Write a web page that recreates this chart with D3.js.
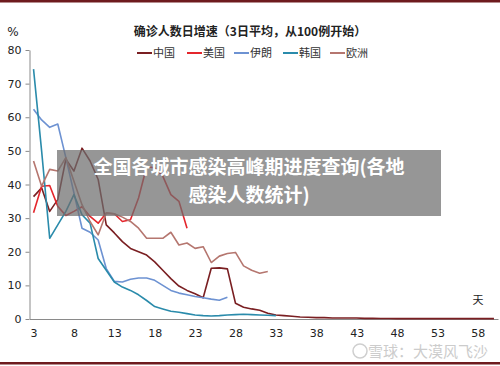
<!DOCTYPE html>
<html>
<head>
<meta charset="utf-8">
<script src="https://cdn.jsdelivr.net/npm/d3@7"></script>
<style>
  body { margin: 0; background: #fff; }
  svg { display: block; font-family: "Noto Sans CJK SC", "DejaVu Sans", sans-serif; }
</style>
</head>
<body>
<svg id="chart" width="500" height="366"></svg>
<script>
/* data: growth rate (%) by day, every series starts at day 3 */
var startDay = 3;
var china = [36.4, 39, 32, 35.5, 47.5, 44, 50.8, 47, 41.5, 28, 25.6, 23, 21, 20, 19, 17, 14.5, 12,
  9.8, 8.5, 7.5, 6.3, 15.1, 15.2, 14.9, 4.7, 3.5, 3.0, 2.6, 1.7, 1.2, 1.0, 0.8, 0.6, 0.5, 0.4, 0.4,
  0.3, 0.3, 0.3, 0.3, 0.2, 0.2, 0.15, 0.15, 0.1, 0.1, 0.1, 0.1, 0.1, 0.1, 0.1, 0.1, 0.1, 0.1, 0.1, 0.1, 0.1];
var usa = [31.6, 39.5, 39.7, 33.5, 30.8, 32, 33.4, 30.5, 28.5, 31.5, 31.3, 29, 29.5, 36, 45.3, 45,
  42.5, 37, 35, 27];
var iran = [62.4, 59.2, 57, 58, 48, 37.5, 27, 25.8, 23.5, 15, 11.2, 11, 11.8, 12.2, 12.2, 11.5, 10,
  8.5, 7.7, 7.2, 6.7, 6.3, 5.9, 5.6, 6.5];
var korea = [74.3, 50, 24, 28, 32, 37, 31, 28.5, 18, 14.5, 11, 9.5, 8.5, 7.2, 5.5, 3.7, 3, 2.3, 2,
  1.6, 1.2, 1, 0.9, 1, 1.2, 1.3, 1.4, 1.3, 1.2, 1.1, 1.0];
var europe = [47, 39.5, 44.5, 44, 48, 41, 34, 29, 25, 31.5, 31.3, 30.3, 29, 27, 24, 24, 24, 25.8,
  22, 22.6, 21, 21.5, 16.8, 18.7, 19.5, 19.8, 15.8, 14.5, 13.6, 14.1];

var seriesNames = ["中国", "美国", "伊朗", "韩国", "欧洲"];
var seriesValues = [china, usa, iran, korea, europe];
var seriesColors = ["#7a1f22", "#e4262c", "#6d92d2", "#2a8bab", "#b5766f"];

var yTicks = [0, 10, 20, 30, 40, 50, 60, 70, 80];
var xTicks = [3, 8, 13, 18, 23, 28, 33, 38, 43, 48, 53, 58];

var svg = d3.select("svg#chart");

/* frame lines top and bottom */
svg.append("rect").attr("x", 0).attr("y", 0).attr("width", 500).attr("height", 2.5).attr("fill", "#6e1b1e");
svg.append("rect").attr("x", 0).attr("y", 362).attr("width", 500).attr("height", 2.5).attr("fill", "#6e1b1e");

var x = d3.scaleLinear().domain([2.5, 60.5]).range([29.5, 498]);
var y = d3.scaleLinear().domain([0, 80]).range([319, 50]);

/* axes */
var yAxis = svg.append("g")
  .attr("transform", "translate(29.5,0)")
  .call(d3.axisLeft(y).tickValues(yTicks).tickSize(4).tickSizeOuter(0));
yAxis.select(".domain").attr("stroke", "#8a8a8a");
yAxis.selectAll(".tick line").attr("stroke", "#8a8a8a");
yAxis.selectAll("text").attr("x", -8).attr("fill", "#222").style("font-size", "11px")
  .style("font-family", "'DejaVu Sans', sans-serif");

var xAxis = svg.append("g")
  .attr("transform", "translate(0,319)")
  .call(d3.axisBottom(x).tickValues(xTicks).tickSize(0).tickSizeOuter(0));
xAxis.select(".domain").attr("stroke", "#8a8a8a");
xAxis.selectAll("text").attr("y", 10).attr("fill", "#222").style("font-size", "11px")
  .style("font-family", "'DejaVu Sans', sans-serif");

/* lines */
var line = d3.line()
  .x((d, i) => x(startDay + i))
  .y(d => y(d));

svg.append("g")
  .selectAll("path")
  .data(seriesValues)
  .enter()
  .append("path")
  .attr("d", line)
  .attr("fill", "none")
  .attr("stroke", (d, i) => seriesColors[i])
  .attr("stroke-width", 1.6)
  .attr("stroke-linejoin", "round");

/* title, unit labels */
svg.append("text").attr("x", 250).attr("y", 36).attr("text-anchor", "middle")
  .attr("fill", "#222").style("font-size", "12px").style("font-weight", "bold")
  .text("确诊人数日增速（3日平均，从100例开始）");
svg.append("text").attr("x", 13).attr("y", 36).attr("text-anchor", "middle")
  .attr("fill", "#222").style("font-size", "12px").style("font-family", "'DejaVu Sans', sans-serif")
  .text("%");
svg.append("text").attr("x", 478).attr("y", 304).attr("text-anchor", "middle")
  .attr("fill", "#222").style("font-size", "11px")
  .text("天");

/* legend */
var legendX = [137, 187, 234, 283, 330];
var legend = svg.append("g")
  .selectAll("g")
  .data(seriesNames)
  .enter()
  .append("g")
  .attr("transform", (d, i) => `translate(${legendX[i]},53)`);
legend.append("line")
  .attr("x1", 0).attr("x2", 15).attr("y1", 0).attr("y2", 0)
  .attr("stroke", (d, i) => seriesColors[i]).attr("stroke-width", 2);
legend.append("text")
  .attr("x", 16).attr("y", 4)
  .attr("fill", "#333").style("font-size", "11px")
  .text(d => d);

/* overlay banner */
svg.append("rect").attr("x", 57).attr("y", 150).attr("width", 384).attr("height", 66)
  .attr("fill", "#6e6e6e").attr("fill-opacity", 0.72);
svg.append("text").attr("x", 249).attr("y", 174).attr("text-anchor", "middle")
  .attr("fill", "#fff").style("font-size", "19px").style("font-weight", "bold")
  .text("全国各城市感染高峰期进度查询(各地");
svg.append("text").attr("x", 249).attr("y", 202).attr("text-anchor", "middle")
  .attr("fill", "#fff").style("font-size", "19px").style("font-weight", "bold")
  .text("感染人数统计)");

/* watermark */
svg.append("circle").attr("cx", 360).attr("cy", 351).attr("r", 7)
  .attr("fill", "none").attr("stroke", "#cfcfcf").attr("stroke-width", 1.5);
svg.append("text").attr("x", 368).attr("y", 357)
  .attr("fill", "#cccccc").style("font-size", "15px")
  .text("雪球：大漠风飞沙");
</script>
</body>
</html>
